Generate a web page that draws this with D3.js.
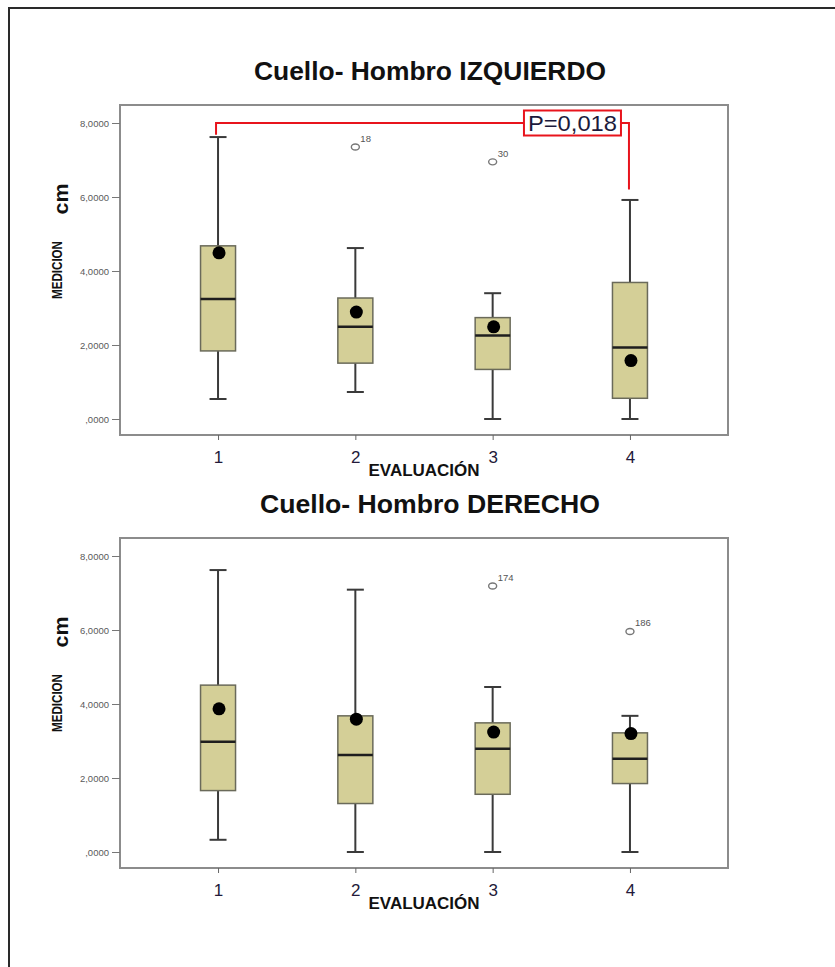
<!DOCTYPE html>
<html>
<head>
<meta charset="utf-8">
<script src="https://cdn.jsdelivr.net/npm/d3@7"></script>
<style>
    body { margin: 0; background: #fff; }
    svg { display: block; }
</style>
</head>
<body>
<div id="chart"></div>
<script>
const categories = ["1", "2", "3", "4"];
const yTickValues = [0, 2, 4, 6, 8];
const yTickLabels = [",0000", "2,0000", "4,0000", "6,0000", "8,0000"];

// Cuello- Hombro IZQUIERDO
const izqLow    = [0.54, 0.73, 0.00, 0.00];
const izqQ1     = [1.84, 1.51, 1.34, 0.56];
const izqMedian = [3.24, 2.49, 2.26, 1.93];
const izqQ3     = [4.68, 3.27, 2.74, 3.69];
const izqHigh   = [7.62, 4.62, 3.40, 5.92];
const izqMean   = [4.49, 2.89, 2.49, 1.58];
const izqOutliers = [
    { cat: "2", value: 7.35, id: "18" },
    { cat: "3", value: 6.95, id: "30" }
];

// Cuello- Hombro DERECHO
const derLow    = [0.33, 0.00, 0.00, 0.00];
const derQ1     = [1.66, 1.31, 1.56, 1.85];
const derMedian = [2.98, 2.62, 2.79, 2.52];
const derQ3     = [4.51, 3.68, 3.49, 3.22];
const derHigh   = [7.62, 7.09, 4.46, 3.68];
const derMean   = [3.87, 3.59, 3.24, 3.20];
const derOutliers = [
    { cat: "3", value: 7.19, id: "174" },
    { cat: "4", value: 5.96, id: "186" }
];

// significance bracket on the left panel
const pTest = { from: "1", to: "4", level: 8.0, fromEnd: 7.68, toEnd: 6.2, label: "P=0,018" };

const width = 835, height = 967;
const boxFill = "#d4cf97";

const svg = d3.select("#chart").append("svg")
    .attr("width", width)
    .attr("height", height);

// outer picture border (runs off the right and bottom edge)
svg.append("rect")
    .attr("x", 9)
    .attr("y", 8)
    .attr("width", 900)
    .attr("height", 1000)
    .attr("fill", "none")
    .attr("stroke", "#2a2a2a")
    .attr("stroke-width", 2);

class BoxPanel
{
    constructor(_title, _titleWidth, _top, _bottom) {
        this.title = _title;
        this.titleWidth = _titleWidth;
        this.top = _top;
        this.bottom = _bottom;
        this.left = 120;
        this.right = 728;

        this.x = d3.scalePoint()
            .domain(categories)
            .range([this.left, this.right])
            .padding(0.714);

        this.y = d3.scaleLinear()
            .domain([0, 8])
            .range([this.bottom - 16, this.top + 18]);

        this.g = svg.append("g");
    }

    drawFrame()
    {
        const cx = (this.left + this.right) / 2;

        this.g.append("text")
            .attr("x", cx + 6)
            .attr("y", this.top - 25)
            .attr("text-anchor", "middle")
            .attr("font-family", "Liberation Sans, Arial, sans-serif")
            .attr("font-weight", "bold")
            .attr("font-size", 25)
            .attr("textLength", this.titleWidth)
            .attr("lengthAdjust", "spacingAndGlyphs")
            .attr("fill", "#111")
            .text(this.title);

        this.g.append("rect")
            .attr("x", this.left)
            .attr("y", this.top)
            .attr("width", this.right - this.left)
            .attr("height", this.bottom - this.top)
            .attr("fill", "none")
            .attr("stroke", "#8c8c8c")
            .attr("stroke-width", 2);

        const yAxis = d3.axisLeft(this.y)
            .tickValues(yTickValues)
            .tickFormat((d, i) => yTickLabels[i])
            .tickSize(8)
            .tickPadding(3);

        const ya = this.g.append("g")
            .attr("transform", "translate(" + this.left + ",0)")
            .call(yAxis);
        ya.select(".domain").remove();
        ya.selectAll("line").attr("stroke", "#777");
        ya.selectAll("text")
            .attr("font-family", "Liberation Sans, Arial, sans-serif")
            .attr("font-size", 9.5)
            .attr("fill", "#5a5a5a");

        const xAxis = d3.axisBottom(this.x)
            .tickSize(5)
            .tickPadding(11);

        const xa = this.g.append("g")
            .attr("transform", "translate(0," + this.bottom + ")")
            .call(xAxis);
        xa.select(".domain").remove();
        xa.selectAll("line").attr("stroke", "#666");
        xa.selectAll("text")
            .attr("font-family", "Liberation Sans, Arial, sans-serif")
            .attr("font-size", 17)
            .attr("fill", "#231a3a");

        this.g.append("text")
            .attr("x", cx)
            .attr("y", this.bottom + 41)
            .attr("text-anchor", "middle")
            .attr("font-family", "Liberation Sans, Arial, sans-serif")
            .attr("font-weight", "bold")
            .attr("font-size", 16)
            .attr("textLength", 111)
            .attr("lengthAdjust", "spacingAndGlyphs")
            .attr("fill", "#111")
            .text("EVALUACIÓN");

        this.g.append("text")
            .attr("transform", "translate(62," + (this.top + 165) + ") rotate(-90)")
            .attr("text-anchor", "middle")
            .attr("font-family", "Liberation Sans, Arial, sans-serif")
            .attr("font-weight", "bold")
            .attr("font-size", 14)
            .attr("textLength", 58)
            .attr("lengthAdjust", "spacingAndGlyphs")
            .attr("fill", "#111")
            .text("MEDICION");

        this.g.append("text")
            .attr("transform", "translate(68," + (this.top + 94) + ") rotate(-90)")
            .attr("text-anchor", "middle")
            .attr("font-family", "Liberation Sans, Arial, sans-serif")
            .attr("font-weight", "bold")
            .attr("font-size", 21)
            .attr("textLength", 31)
            .attr("lengthAdjust", "spacingAndGlyphs")
            .attr("fill", "#111")
            .text("cm");
    }

    drawBoxes(_low, _q1, _median, _q3, _high, _mean)
    {
        const boxW = 35, capW = 17;
        const rows = categories.map((c, i) => ({
            cat: c, low: _low[i], q1: _q1[i], median: _median[i],
            q3: _q3[i], high: _high[i], mean: _mean[i]
        }));

        const box = this.g.selectAll(".box")
            .data(rows)
            .enter().append("g")
            .attr("class", "box");

        box.append("line")
            .attr("x1", d => this.x(d.cat))
            .attr("x2", d => this.x(d.cat))
            .attr("y1", d => this.y(d.low))
            .attr("y2", d => this.y(d.high))
            .attr("stroke", "#3a3a3a")
            .attr("stroke-width", 2);

        box.selectAll(".cap")
            .data(d => [{ cat: d.cat, v: d.low }, { cat: d.cat, v: d.high }])
            .enter().append("line")
            .attr("class", "cap")
            .attr("x1", d => this.x(d.cat) - capW / 2)
            .attr("x2", d => this.x(d.cat) + capW / 2)
            .attr("y1", d => this.y(d.v))
            .attr("y2", d => this.y(d.v))
            .attr("stroke", "#3a3a3a")
            .attr("stroke-width", 2);

        box.append("rect")
            .attr("x", d => this.x(d.cat) - boxW / 2)
            .attr("y", d => this.y(d.q3))
            .attr("width", boxW)
            .attr("height", d => this.y(d.q1) - this.y(d.q3))
            .attr("fill", boxFill)
            .attr("stroke", "#6a6a5a")
            .attr("stroke-width", 1.5);

        box.append("line")
            .attr("x1", d => this.x(d.cat) - boxW / 2)
            .attr("x2", d => this.x(d.cat) + boxW / 2)
            .attr("y1", d => this.y(d.median))
            .attr("y2", d => this.y(d.median))
            .attr("stroke", "#1e1e1e")
            .attr("stroke-width", 2.5);

        box.append("circle")
            .attr("cx", d => this.x(d.cat) + 1)
            .attr("cy", d => this.y(d.mean))
            .attr("r", 6.5)
            .attr("fill", "#000");
    }

    drawOutliers(_outliers)
    {
        const o = this.g.selectAll(".outlier")
            .data(_outliers)
            .enter().append("g")
            .attr("class", "outlier");

        o.append("ellipse")
            .attr("cx", d => this.x(d.cat))
            .attr("cy", d => this.y(d.value))
            .attr("rx", 4)
            .attr("ry", 3)
            .attr("fill", "none")
            .attr("stroke", "#777")
            .attr("stroke-width", 1.4);

        o.append("text")
            .attr("x", d => this.x(d.cat) + 5)
            .attr("y", d => this.y(d.value) - 5)
            .attr("font-family", "Liberation Sans, Arial, sans-serif")
            .attr("font-size", 9.5)
            .attr("fill", "#555")
            .text(d => d.id);
    }

    drawBracket(_test)
    {
        const x1 = this.x(_test.from) - 2;
        const x2 = this.x(_test.to) - 1;
        const yl = this.y(_test.level);

        this.g.append("path")
            .attr("d", "M" + x1 + "," + this.y(_test.fromEnd) + "V" + yl + "H" + x2 + "V" + this.y(_test.toEnd))
            .attr("fill", "none")
            .attr("stroke", "#e8141c")
            .attr("stroke-width", 2);

        const bw = 97, bh = 25;
        const bx = x2 - 8 - bw;

        this.g.append("rect")
            .attr("x", bx)
            .attr("y", yl - bh / 2)
            .attr("width", bw)
            .attr("height", bh)
            .attr("fill", "#fff")
            .attr("stroke", "#e8141c")
            .attr("stroke-width", 2);

        this.g.append("text")
            .attr("x", bx + 4)
            .attr("y", yl + 8)
            .attr("font-family", "Liberation Sans, Arial, sans-serif")
            .attr("font-size", 22)
            .attr("textLength", 89)
            .attr("lengthAdjust", "spacingAndGlyphs")
            .attr("fill", "#1c1a3c")
            .text(_test.label);
    }
}

const izq = new BoxPanel("Cuello- Hombro IZQUIERDO", 352, 105, 435);
izq.drawFrame();
izq.drawBoxes(izqLow, izqQ1, izqMedian, izqQ3, izqHigh, izqMean);
izq.drawOutliers(izqOutliers);
izq.drawBracket(pTest);

const der = new BoxPanel("Cuello- Hombro DERECHO", 340, 538, 868);
der.drawFrame();
der.drawBoxes(derLow, derQ1, derMedian, derQ3, derHigh, derMean);
der.drawOutliers(derOutliers);
</script>
</body>
</html>
